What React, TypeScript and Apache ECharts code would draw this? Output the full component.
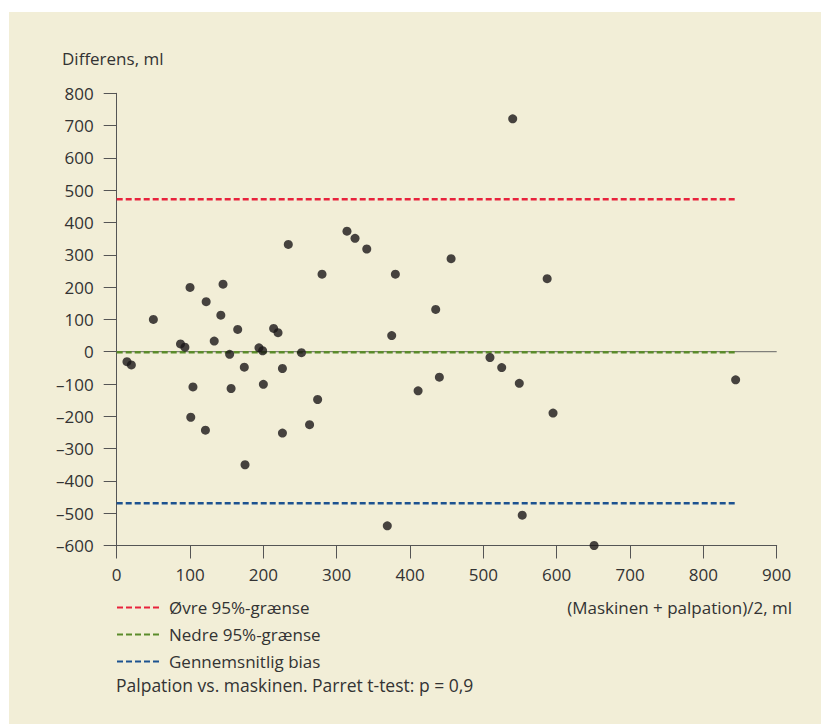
import React, { useEffect, useRef } from "react";
import * as echarts from "echarts";

const xValues = [14, 20, 50, 87, 93, 100, 101, 104, 121, 122, 133, 142, 145, 154, 156, 165, 174, 175, 194, 199, 200, 214, 220, 226, 226, 234, 252, 263, 274, 280, 314, 325, 341, 369, 375, 380, 411, 435, 440, 456, 509, 525, 540, 549, 553, 587, 595, 651, 844];
const yValues = [-31, -41, 100, 24, 14, 199, -203, -109, -243, 155, 33, 113, 209, -8, -114, 69, -48, -350, 12, 3, -101, 72, 59, -52, -252, 332, -3, -226, -148, 240, 373, 351, 318, -539, 50, 240, -121, 131, -79, 288, -18, -49, 721, -98, -506, 226, -190, -600, -87];

const limitNames = ["Øvre 95%-grænse", "Nedre 95%-grænse", "Gennemsnitlig bias"];
const limitValues = [472, -2, -469];
const limitColors = ["#e8223c", "#5b8b2b", "#1d5290"];
const lineStart = 0;
const lineEnd = 845;

const yTitle = "Differens, ml";
const xTitle = "(Maskinen + palpation)/2, ml";
const footnote = "Palpation vs. maskinen. Parret t-test: p = 0,9";

const FONT = "'Open Sans', 'Noto Sans', sans-serif";

export default function App() {
  const ref = useRef<HTMLDivElement>(null);
  useEffect(() => {
    if (!ref.current) return;
    const chart = echarts.init(ref.current, undefined, { renderer: "svg" });
    const points = xValues.map((x, i) => [x, yValues[i]]);
    const limitSeries = limitNames.map((name, i) => ({
      name,
      type: "line",
      data: [
        [lineStart, limitValues[i]],
        [lineEnd, limitValues[i]],
      ],
      symbol: "none",
      lineStyle: { color: limitColors[i], width: 2.5, type: [6, 3] },
      itemStyle: { color: limitColors[i] },
      z: 3,
      silent: true,
    }));
    chart.setOption({
      animation: false,
      backgroundColor: "#f2eed7",
      textStyle: { fontFamily: FONT },
      grid: { left: 107.7, right: 44.3, top: 81.3, bottom: 178.5 },
      xAxis: {
        type: "value",
        min: 0,
        max: 900,
        interval: 100,
        axisLine: { show: true, onZero: false, lineStyle: { color: "#555", width: 1 } },
        axisTick: { show: true, length: 13, lineStyle: { color: "#555" } },
        axisLabel: { fontSize: 17, color: "#333", margin: 20, fontFamily: FONT },
        splitLine: { show: false },
      },
      yAxis: {
        type: "value",
        min: -600,
        max: 800,
        interval: 100,
        axisLine: { show: true, onZero: false, lineStyle: { color: "#555", width: 1 } },
        axisTick: { show: true, length: 13, lineStyle: { color: "#555" } },
        axisLabel: {
          fontSize: 17,
          color: "#333",
          margin: 23,
          fontFamily: FONT,
          formatter: (v: number) => String(v).replace("-", "–"),
        },
        splitLine: { show: false },
      },
      legend: {
        data: limitNames,
        orient: "vertical",
        left: 107,
        top: 587,
        padding: 0,
        itemWidth: 44,
        itemHeight: 14,
        itemGap: 10,
        itemStyle: { color: "rgba(0,0,0,0)", borderWidth: 0, opacity: 0 },
        textStyle: { fontSize: 17, color: "#333", fontFamily: FONT, padding: [0, 0, 0, 3] },
      },
      graphic: [
        {
          type: "text",
          left: 53,
          top: 38,
          style: { text: yTitle, fontSize: 17, fill: "#333", fontFamily: FONT },
        },
        {
          type: "text",
          right: 29,
          top: 587,
          style: { text: xTitle, fontSize: 17, fill: "#333", fontFamily: FONT },
        },
        {
          type: "text",
          left: 107,
          top: 664,
          style: { text: footnote, fontSize: 17.5, fill: "#333", fontFamily: FONT },
        },
      ],
      series: [
        {
          name: "zero",
          type: "line",
          data: [
            [0, 0],
            [900, 0],
          ],
          symbol: "none",
          lineStyle: { color: "#666", width: 1 },
          z: 2,
          silent: true,
        },
        ...limitSeries,
        {
          name: "points",
          type: "scatter",
          data: points,
          symbolSize: 9,
          clip: false,
          itemStyle: { color: "#1a1718" },
          z: 5,
        },
      ],
    });
    return () => chart.dispose();
  }, []);
  return (
    <div style={{ position: "absolute", left: 0, top: 0, width: 821, height: 724, background: "#ffffff" }}>
      <div ref={ref} style={{ position: "absolute", left: 9, top: 12, width: 812, height: 712 }} />
    </div>
  );
}
